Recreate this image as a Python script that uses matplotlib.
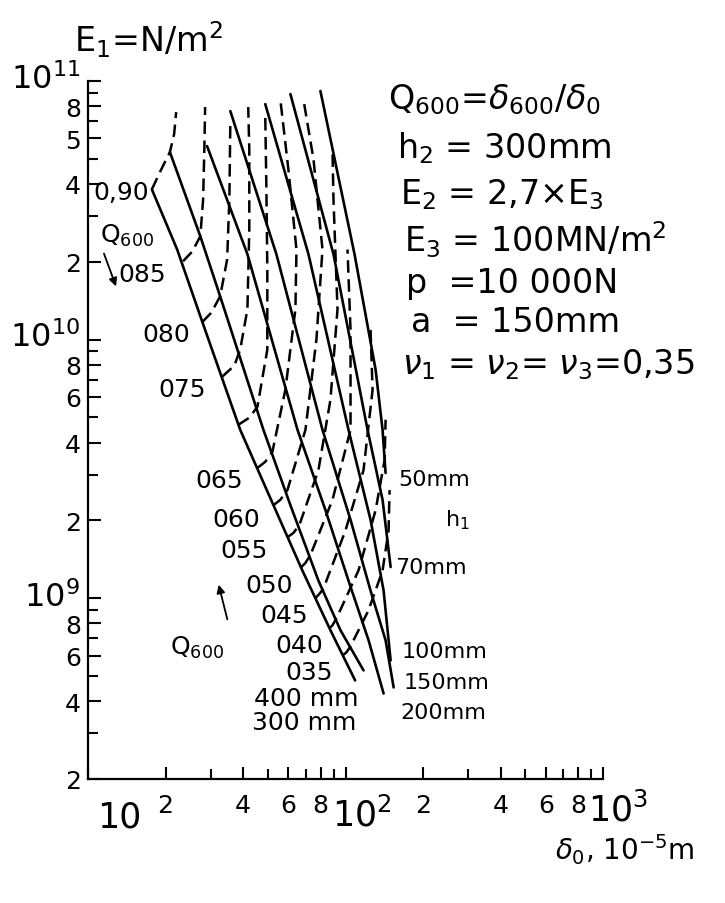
import matplotlib.pyplot as plt
from matplotlib.ticker import FixedLocator, FixedFormatter, NullFormatter

plt.rcParams['font.family'] = ['DejaVu Sans']
plt.rcParams['mathtext.fontset'] = 'dejavusans'

# delta0 in 1e-5 m, E1 in N/m2
# solid curves: layer thickness h1
h1_names = ['400 mm', '300 mm', '200mm', '150mm', '100mm', '70mm', '50mm']
h1_delta = [
    [17.7, 22.2, 27.8, 39.0, 52.5, 68.0, 87.4, 109.0],
    [20.8, 27.3, 32.6, 48.0, 61.1, 78.5, 95.6, 117.5],
    [29.0, 41.6, 65.1, 83.6, 102.7, 122.9, 140.6],
    [35.7, 53.9, 81.4, 104.6, 125.1, 143.1, 153.8],
    [48.8, 71.8, 102.7, 125.1, 140.6, 149.7],
    [61.1, 89.8, 121.8, 139.3, 149.7],
    [79.9, 108.4, 130.9, 139.3, 143.1],
]
h1_E1 = [
    [3.81e10, 2.23e10, 1.17e10, 4.48e9, 2.29e9, 1.28e9, 7.52e8, 4.81e8],
    [5.31e10, 2.51e10, 1.47e10, 4.48e9, 2.29e9, 1.17e9, 7.52e8, 5.26e8],
    [5.60e10, 2.14e10, 4.48e9, 2.19e9, 1.17e9, 6.88e8, 4.28e8],
    [7.65e10, 2.14e10, 4.48e9, 2.01e9, 1.07e9, 6.88e8, 4.52e8],
    [8.14e10, 2.14e10, 4.48e9, 2.01e9, 1.07e9, 5.75e8],
    [8.90e10, 2.14e10, 4.48e9, 2.40e9, 1.32e9],
    [9.15e10, 2.14e10, 7.65e9, 4.48e9, 3.05e9],
]

# dashed curves: Q600 = delta600 / delta0
q_values = [0.90, 0.85, 0.80, 0.75, 0.70, 0.65, 0.60, 0.55, 0.50, 0.45, 0.40, 0.35]
q_delta = [
    [17.7, 19.1, 20.8, 21.6, 22.0],
    [23.4, 25.4, 27.3, 28.0, 28.3, 28.5],
    [27.8, 30.1, 32.6, 34.7, 35.4, 35.7],
    [33.2, 37.0, 39.0, 41.6, 42.3, 42.3, 41.9],
    [38.3, 42.3, 45.5, 49.7, 49.7, 49.3, 48.8],
    [45.5, 48.8, 52.0, 58.4, 63.9, 64.5, 60.0, 55.8],
    [52.5, 55.8, 59.5, 69.9, 77.1, 81.4, 75.1, 68.6],
    [59.5, 62.8, 66.2, 78.5, 87.4, 93.1, 89.8, 89.0],
    [67.4, 69.9, 73.1, 89.0, 104.6, 104.6, 101.8],
    [76.4, 79.2, 82.1, 100.0, 117.5, 127.4, 125.1],
    [86.6, 89.0, 92.3, 112.3, 130.9, 141.9, 143.1],
    [97.4, 100.9, 104.6, 122.9, 139.3, 147.0, 148.3],
]
q_E1 = [
    [3.81e10, 4.48e10, 5.31e10, 6.23e10, 7.58e10],
    [2.01e10, 2.19e10, 2.51e10, 3.49e10, 5.45e10, 7.93e10],
    [1.17e10, 1.27e10, 1.47e10, 2.04e10, 3.49e10, 6.81e10],
    [7.19e9, 7.93e9, 9.15e9, 1.31e10, 2.67e10, 5.45e10, 7.93e10],
    [4.68e9, 4.99e9, 5.50e9, 9.15e9, 1.87e10, 3.81e10, 7.25e10],
    [3.19e9, 3.37e9, 3.68e9, 6.40e9, 1.31e10, 2.23e10, 4.56e10, 8.52e10],
    [2.29e9, 2.40e9, 2.62e9, 4.48e9, 1.00e10, 2.23e10, 4.99e10, 8.52e10],
    [1.72e9, 1.79e9, 1.92e9, 3.13e9, 5.85e9, 1.31e10, 3.49e10, 5.45e10],
    [1.32e9, 1.37e9, 1.47e9, 2.40e9, 4.48e9, 1.09e10, 2.23e10],
    [1.00e9, 1.04e9, 1.09e9, 1.83e9, 3.13e9, 6.40e9, 1.09e10],
    [7.65e8, 7.86e8, 8.37e8, 1.28e9, 2.19e9, 3.43e9, 4.90e9],
    [6.01e8, 6.18e8, 6.52e8, 8.99e8, 1.28e9, 1.83e9, 2.62e9],
]

x_ticks = [10, 20, 40, 60, 80, 100, 200, 400, 600, 800, 1000]
x_tick_labels = ['', '2', '4', '6', '8', '', '2', '4', '6', '8', '']
x_decade_labels = ['10', '10$^2$', '10$^3$']
y_ticks = [2e8, 4e8, 6e8, 8e8, 1e9, 2e9, 4e9, 6e9, 8e9, 1e10, 2e10, 4e10, 6e10, 8e10, 1e11]
y_tick_labels = ['2', '4', '6', '8', '', '2', '4', '6', '8', '',
                 '2', '4', '5', '8', '']
y_decade_labels = ['10$^9$', '10$^{10}$', '10$^{11}$']

params = ['Q$_{600}$=$\\delta_{600}$/$\\delta_0$', 'h$_2$ = 300mm', 'E$_2$ = 2,7×E$_3$',
          'E$_3$ = 100MN/m$^2$', 'p  =10 000N', 'a  = 150mm',
          '$\\nu_1$ = $\\nu_2$= $\\nu_3$=0,35']


def fx(x):
    return x / 725


def fy(y):
    return 1 - y / 904


fig = plt.figure(figsize=(7.25, 9.04), dpi=100)
ax = fig.add_axes([fx(88), fy(780), (603 - 88) / 725, (780 - 82) / 904])
ax.set_xscale('log')
ax.set_yscale('log')
ax.set_xlim(10, 1000)
ax.set_ylim(2e8, 1e11)

for d, e in zip(h1_delta, h1_E1):
    ax.plot(d, e, color='black', lw=1.9, solid_capstyle='round')
for d, e in zip(q_delta, q_E1):
    ax.plot(d, e, color='black', lw=1.8, linestyle=(0, (5, 2.6)))

ax.spines['top'].set_visible(False)
ax.spines['right'].set_visible(False)
ax.spines['left'].set_linewidth(1.6)
ax.spines['bottom'].set_linewidth(1.6)

minor_x = [m * 10 ** k for k in (1, 2) for m in range(2, 10)]
minor_y = [m * 10 ** k for k in (8, 9, 10) for m in range(2, 10)]
ax.xaxis.set_major_locator(FixedLocator(x_ticks))
ax.xaxis.set_major_formatter(FixedFormatter(x_tick_labels))
ax.xaxis.set_minor_locator(FixedLocator(minor_x))
ax.xaxis.set_minor_formatter(NullFormatter())
ax.yaxis.set_major_locator(FixedLocator(y_ticks))
ax.yaxis.set_major_formatter(FixedFormatter(y_tick_labels))
ax.yaxis.set_minor_locator(FixedLocator(minor_y))
ax.yaxis.set_minor_formatter(NullFormatter())
ax.tick_params(which='both', direction='in', width=1.5, color='black')
ax.tick_params(which='major', length=9, labelsize=18)
ax.tick_params(axis='x', which='major', pad=10)
ax.tick_params(axis='y', which='major', pad=5)
ax.tick_params(which='minor', length=7)

# decade labels, drawn as separate texts so the powers of ten sit clear of the 8s
for s, x, y in zip(x_decade_labels, [97, 332, 588], [818, 815, 810]):
    fig.text(fx(x), fy(y), s, fontsize=25, va='center', ha='left')
for s, y in zip(y_decade_labels, [598, 338, 80]):
    fig.text(fx(80), fy(y), s, fontsize=23, va='center', ha='right')

# axis titles
fig.text(fx(74), fy(40), 'E$_1$=N/m$^2$', fontsize=24, va='center', ha='left')
fig.text(fx(555), fy(850), '$\\delta_0$, 10$^{-5}$m', fontsize=20, va='center', ha='left')

# parameter block
param_pos = [(388, 100), (397, 148), (400, 195), (404, 240), (406, 283), (411, 323), (402, 365)]
for s, (x, y) in zip(params, param_pos):
    fig.text(fx(x), fy(y), s, fontsize=24, va='center', ha='left')

# Q600 labels along the left curve
q_text = ['0,90', '085', '080', '075', '065', '060', '055', '050', '045', '040', '035']
q_text_pos = [(93, 193), (118, 275), (142, 335), (158, 390), (195, 481), (212, 520),
              (220, 551), (245, 586), (260, 616), (275, 646), (285, 673)]
for s, (x, y) in zip(q_text, q_text_pos):
    fig.text(fx(x), fy(y), s, fontsize=18, va='center', ha='left')
fig.text(fx(100), fy(236), 'Q$_{600}$', fontsize=18, va='center', ha='left')
fig.text(fx(170), fy(648), 'Q$_{600}$', fontsize=18, va='center', ha='left')
arrow = dict(arrowstyle='-|>', lw=1.3, color='black', mutation_scale=12)
ax.annotate('', xy=(fx(117), fy(290)), xytext=(fx(103), fy(252)),
            xycoords='figure fraction', textcoords='figure fraction', arrowprops=arrow)
ax.annotate('', xy=(fx(218), fy(583)), xytext=(fx(228), fy(623)),
            xycoords='figure fraction', textcoords='figure fraction', arrowprops=arrow)

# h1 labels
h1_text_pos = [(254, 699), (252, 723), (400, 713), (404, 683), (402, 652), (395, 568), (398, 480)]
h1_sizes = [18, 18, 16, 16, 16, 16, 16]
for s, (x, y), fs in zip(h1_names, h1_text_pos, h1_sizes):
    fig.text(fx(x), fy(y), s, fontsize=fs, va='center', ha='left')
fig.text(fx(445), fy(520), 'h$_1$', fontsize=16, va='center', ha='left')

fig.savefig('out.png', dpi=100)
